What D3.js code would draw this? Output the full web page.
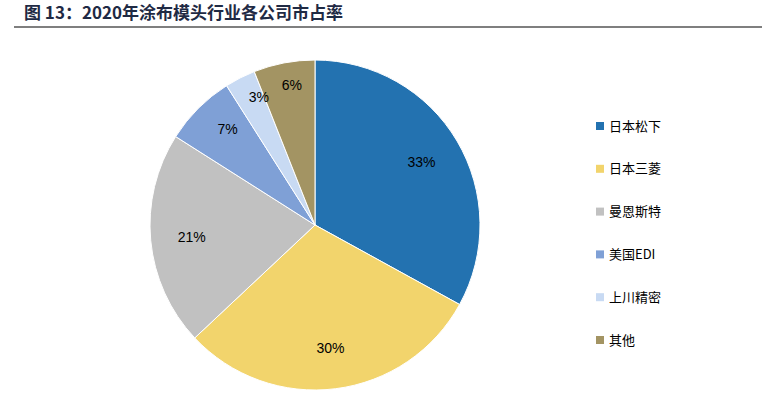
<!DOCTYPE html>
<html><head><meta charset="utf-8">
<script src="https://cdn.jsdelivr.net/npm/d3@7"></script>
<style>body{margin:0;background:#fff}</style>
</head><body><svg width="762" height="400"></svg>
<script>
var names = ["日本松下", "日本三菱", "曼恩斯特", "美国EDI", "上川精密", "其他"];
var shares = [33, 30, 21, 7, 3, 6];
var colors = ["#2372b0", "#f2d46c", "#c1c1c1", "#7fa0d6", "#c8daf3", "#a39463"];

var svg = d3.select("svg");
var cx = 315, cy = 225, r = 165;

// title
svg.append("text")
  .attr("x", 24).attr("y", 19)
  .style("font-family", "'Noto Sans CJK SC', sans-serif")
  .style("font-weight", "bold").style("font-size", "17px")
  .attr("fill", "#1f2a44")
  .text("图 13：2020年涂布模头行业各公司市占率");
svg.append("line").attr("x1", 14).attr("x2", 762).attr("y1", 27).attr("y2", 27)
  .attr("stroke", "#000").attr("stroke-width", 1.2);

var pie = d3.pie().sort(null).value((d) => d);
var arcs = pie(shares);
var arc = d3.arc().innerRadius(0).outerRadius(r);
var labelArc = d3.arc().innerRadius(r * 0.75).outerRadius(r * 0.75);

var g = svg.append("g").attr("transform", `translate(${cx},${cy})`);
g.selectAll("path").data(arcs).enter().append("path")
  .attr("d", arc)
  .attr("fill", (d, i) => colors[i])
  .attr("stroke", "#fff").attr("stroke-width", 1);

var offsets = [[0, 0], [0, 0], [0, 0], [0, -8], [0, -18], [0, -18]];
g.selectAll("text.lbl").data(arcs).enter().append("text")
  .attr("x", (d, i) => labelArc.centroid(d)[0] + offsets[i][0])
  .attr("y", (d, i) => labelArc.centroid(d)[1] + offsets[i][1])
  .attr("dy", "0.35em").attr("text-anchor", "middle")
  .style("font-family", "Arial, 'Liberation Sans', sans-serif").style("font-size", "14px")
  .text((d) => d.data + "%");

// legend
var leg = svg.append("g").selectAll("g").data(names).enter().append("g")
  .attr("transform", (d, i) => `translate(596,${126 + i * 42.8})`);
leg.append("rect").attr("x", 0).attr("y", -4).attr("width", 8).attr("height", 8)
  .attr("fill", (d, i) => colors[i]);
leg.append("text").attr("x", 13).attr("dy", "0.35em")
  .style("font-family", "'Noto Sans CJK SC', sans-serif").style("font-size", "13px")
  .text((d) => d);
</script></body></html>
